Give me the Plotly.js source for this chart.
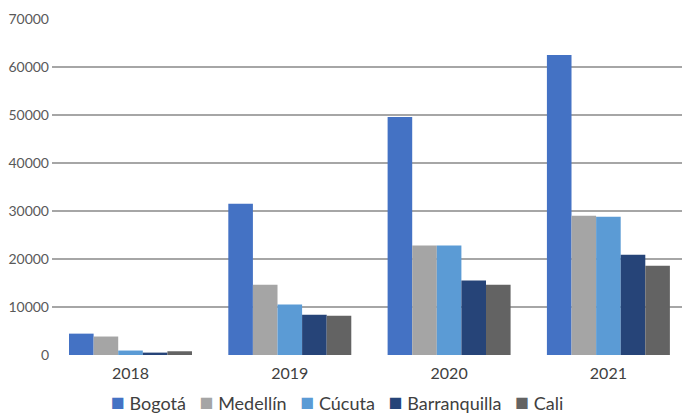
<!DOCTYPE html>
<html>
<head>
<meta charset="utf-8">
<script src="https://cdn.plot.ly/plotly-3.0.1.min.js"></script>
<style>html,body{margin:0;padding:0;background:#fff;overflow:hidden}</style>
</head>
<body>
<div id="chart" style="width:682px;height:414px"></div>
<script>
var years = ["2018", "2019", "2020", "2021"];
var cities = ["Bogotá", "Medellín", "Cúcuta", "Barranquilla", "Cali"];
var bogota = [4450, 31500, 49600, 62500];
var medellin = [3850, 14650, 22800, 29000];
var cucuta = [930, 10500, 22800, 28800];
var barranquilla = [500, 8400, 15500, 20900];
var cali = [780, 8200, 14650, 18600];
var colors = ["#4472C4", "#A5A5A5", "#5B9BD5", "#264478", "#636363"];
var yTicks = [0, 10000, 20000, 30000, 40000, 50000, 60000, 70000];

var series = [bogota, medellin, cucuta, barranquilla, cali];
var data = series.map(function (vals, i) {
  return {
    type: "bar",
    name: cities[i],
    x: years,
    y: vals,
    marker: {color: colors[i], line: {width: 0}},
    hoverinfo: "none"
  };
});

// Legend built as one line of text: coloured square + name for each series
var legendText = cities.map(function (c, i) {
  return "<span style='color:" + colors[i] + ";font-size:23px'>■</span>&nbsp;" + c;
}).join("&nbsp;&nbsp;&nbsp;");

var layout = {
  width: 682,
  height: 414,
  margin: {l: 52, r: 0, t: 19, b: 58.5},
  paper_bgcolor: "#ffffff",
  plot_bgcolor: "#ffffff",
  barmode: "group",
  bargap: 0.228,
  bargroupgap: 0,
  font: {family: "Lato, 'Open Sans', sans-serif", color: "#595959"},
  xaxis: {
    type: "category",
    range: [-0.4928, 3.462],
    showgrid: false,
    showline: false,
    zeroline: false,
    ticks: "",
    tickfont: {size: 16, color: "#404040"},
    ticklabelstandoff: 7
  },
  yaxis: {
    range: [0, 70000],
    tickvals: yTicks,
    ticktext: yTicks.map(String),
    showgrid: true,
    gridcolor: "#A6A6A6",
    gridwidth: 1.3,
    zeroline: true,
    zerolinecolor: "rgba(0,0,0,0)",
    showline: false,
    ticks: "",
    tickfont: {size: 14, color: "#595959"},
    ticklabelstandoff: 2
  },
  showlegend: false,
  annotations: [{
    text: legendText,
    xref: "paper",
    yref: "paper",
    x: 0.453,
    xanchor: "center",
    y: -0.136,
    yanchor: "middle",
    showarrow: false,
    font: {size: 18, color: "#404040", family: "Lato, 'Open Sans', sans-serif"}
  }]
};

Plotly.newPlot("chart", data, layout, {displayModeBar: false, staticPlot: true});
</script>
</body>
</html>
